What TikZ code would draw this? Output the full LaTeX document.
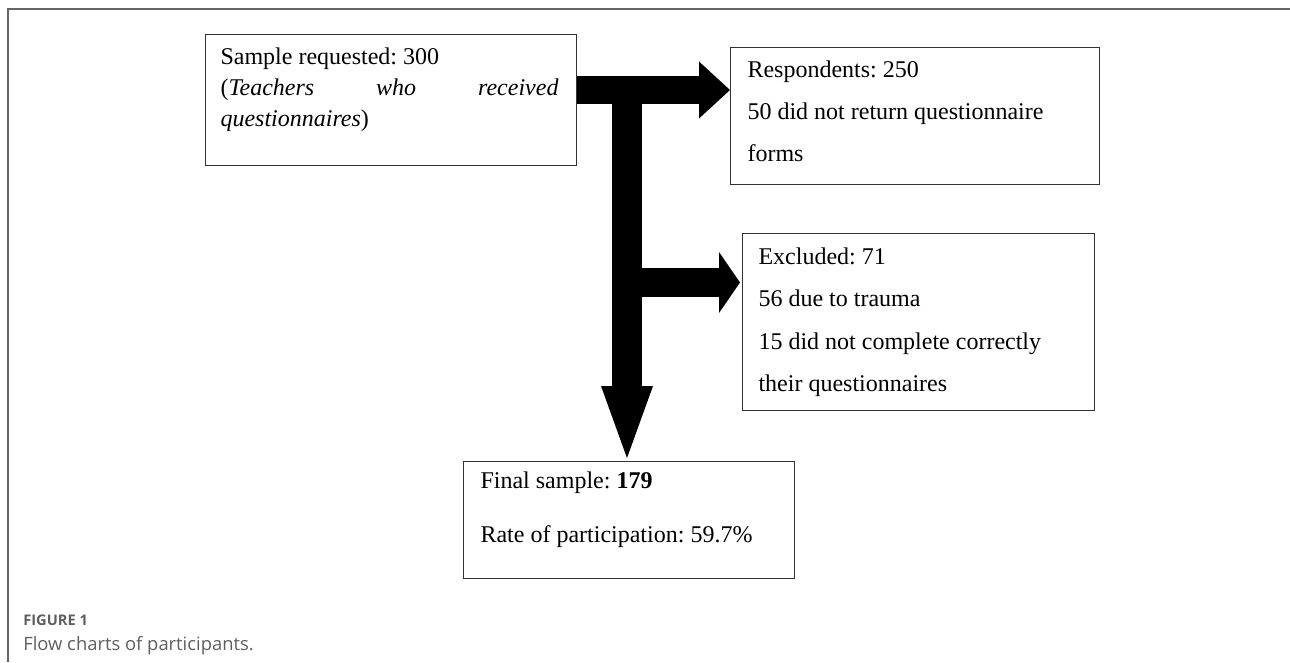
\documentclass[tikz,border=0pt]{standalone}
\usepackage{fontspec}
\setmainfont{Liberation Serif}
\newfontfamily\captionfont{Open Sans}
\usepackage{tikz}
\usetikzlibrary{arrows.meta,positioning,calc}
\definecolor{framegray}{RGB}{102,102,102}
\definecolor{boxgray}{RGB}{51,51,51}
\definecolor{captiongray}{RGB}{95,95,95}
\frenchspacing
% box text: width, height, left inset, line spacing, first baseline, text
\newcommand{\entrytext}[6]{\parbox[t][#2][t]{#1}{\fontsize{18}{#4}\selectfont
    \leftskip=#3\relax\noindent\rule{0pt}{#5}#6}}

\begin{document}
\begin{tikzpicture}[
    x=0.75pt, y=-0.75pt,
    entity/.style={draw=boxgray, line width=0.8pt, anchor=north west, inner sep=0pt},
    flow/.style={black, line cap=butt},
    label/.style={anchor=base west, inner sep=0pt, text=captiongray}
]
    \useasboundingbox (0,0) rectangle (1290,662);
    % Frame
    \draw[framegray, line width=0.8pt] (8,662) -- (8,9) -- (1290,9);

    % Entities
    \node[entity] (sample) at (205,34) {\entrytext{278.25pt}{98.25pt}{11.25pt}{23.25pt}{22.5pt}{%
        \rightskip=13.5pt\relax
        Sample requested: 300\\
        (\textit{Teachers}\hfill\textit{who}\hfill\textit{received}\\
        \textit{questionnaires})}};

    \node[entity] (resp) at (730,47) {\entrytext{276.75pt}{102.75pt}{12.75pt}{31.5pt}{22.5pt}{%
        Respondents: 250\\
        50 did not return questionnaire\\
        forms}};

    \node[entity] (excl) at (742,233) {\entrytext{264pt}{132.75pt}{12pt}{31.75pt}{23.25pt}{%
        Excluded: 71\\
        56 due to trauma\\
        15 did not complete correctly\\
        their questionnaires}};

    \node[entity] (final) at (463,461) {\entrytext{248.25pt}{87.75pt}{12.75pt}{40.5pt}{20.25pt}{%
        Final sample: \textbf{179}\\
        Rate of participation: 59.7\%}};

    % Relationships
    \coordinate (fork) at (627,90);
    \coordinate (branch) at (627,282.5);
    \draw[flow, line width=21pt,
        -{Triangle[length=23.25pt 0 0, width=42.75pt 0 0, line width=0pt 0 0]}]
        (sample.east |- fork) -- (resp.west |- fork);
    \draw[flow, line width=22.5pt, shorten >=2.25pt,
        -{Triangle[length=54pt 0 0, width=39pt 0 0, line width=0pt 0 0]}]
        (fork) -- (fork |- final.north);
    \draw[flow, line width=21.75pt, shorten >=1.5pt,
        -{Triangle[length=15.75pt 0 0, width=45.75pt 0 0, line width=0pt 0 0]}]
        (branch) -- (excl.west |- branch);

    % Labels
    \node[label, font={\captionfont\bfseries\fontsize{11}{13}\selectfont}] (figlabel) at (23,625) {FIGURE 1};
    \node[label, font={\captionfont\fontsize{13.8}{16}\selectfont}] (figtitle) at (23,650) {Flow charts of participants.};
\end{tikzpicture}
\end{document}
